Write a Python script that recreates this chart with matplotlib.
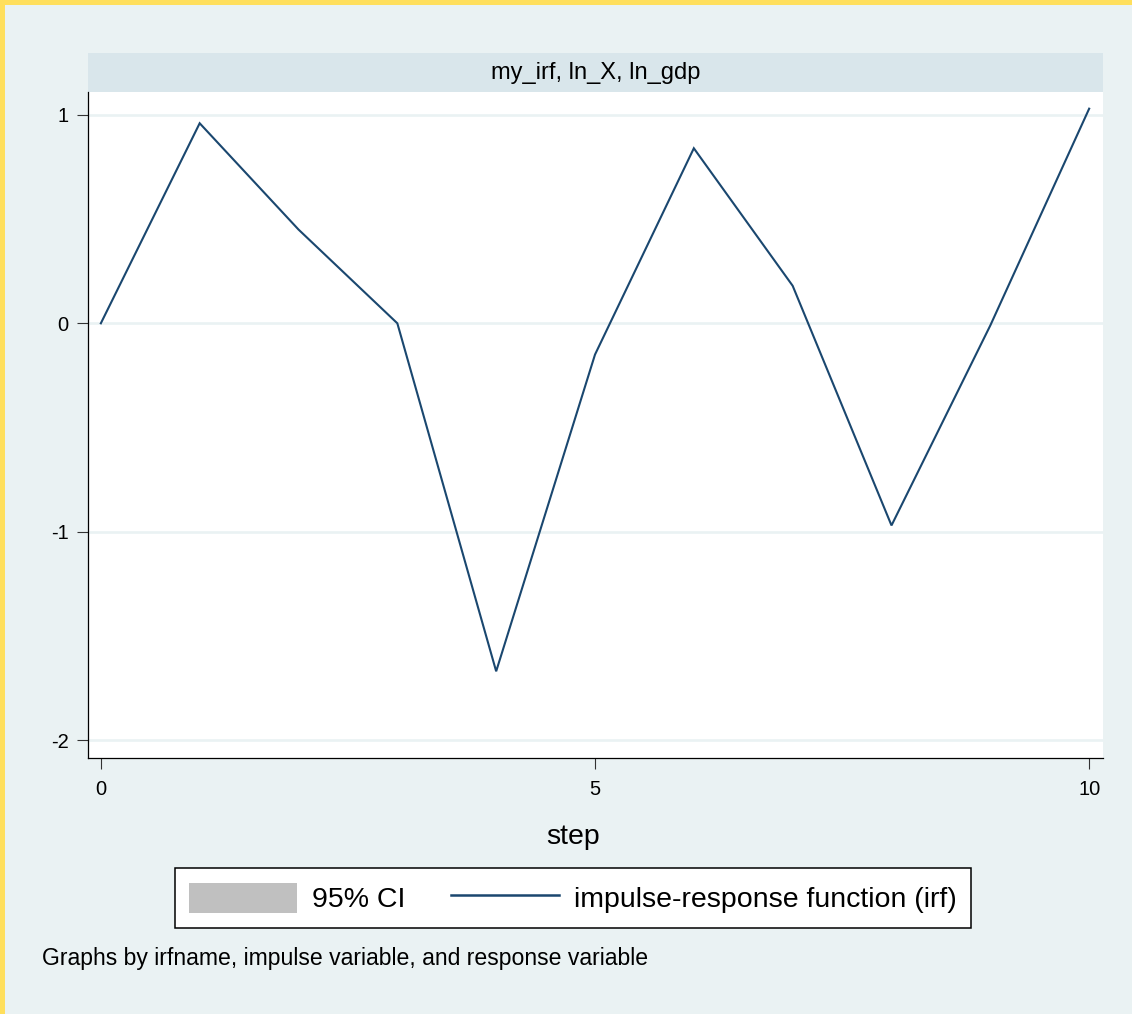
import matplotlib
matplotlib.use("Agg")
import matplotlib.pyplot as plt
from matplotlib.patches import Rectangle, Patch
from matplotlib.lines import Line2D

# impulse-response values
steps = [0, 1, 2, 3, 4, 5, 6, 7, 8, 9, 10]
irf = [0.0, 0.96, 0.45, 0.0, -1.67, -0.15, 0.84, 0.18, -0.97, -0.01, 1.03]
x_ticks = [0, 5, 10]
y_ticks = [1, 0, -1, -2]
panel_title = "my_irf, ln_X, ln_gdp"
legend_labels = ["95% CI", "impulse-response function (irf)"]
note = "Graphs by irfname, impulse variable, and response variable"

BG = "#EAF2F3"
STRIP = "#D9E6EB"
NAVY = "#1A476F"
CI_GRAY = "#C0C0C0"
YELLOW = "#FFDF5C"

plt.rcParams["font.family"] = ["Liberation Sans", "DejaVu Sans"]

W, H = 1132, 1014
fig = plt.figure(figsize=(W / 100, H / 100), dpi=100, facecolor=BG)

# yellow frame on top and left edges
fig.patches.append(Rectangle((0, 1 - 5 / H), 1, 5 / H, transform=fig.transFigure,
                             facecolor=YELLOW, edgecolor="none", zorder=0))
fig.patches.append(Rectangle((0, 0), 5 / W, 1, transform=fig.transFigure,
                             facecolor=YELLOW, edgecolor="none", zorder=0))

left, right, top, bottom = 88, 1103, 92, 758
ax = fig.add_axes([left / W, 1 - bottom / H, (right - left) / W, (bottom - top) / H])
ax.set_facecolor("white")

ax.plot(steps, irf, color=NAVY, lw=1.5, solid_joinstyle="miter")

ax.set_xlim(-0.13, 10.14)
ax.set_ylim(-2.086, 1.11)
ax.set_xticks(x_ticks)
ax.set_yticks(y_ticks)
ax.set_yticklabels([str(v) for v in y_ticks])
ax.grid(axis="y", color=BG, lw=1.9)
ax.set_axisbelow(True)

for s in ("top", "right"):
    ax.spines[s].set_visible(False)
for s in ("left", "bottom"):
    ax.spines[s].set_color("black")
    ax.spines[s].set_linewidth(0.9)

ax.tick_params(axis="both", length=8, width=0.8, color="#333333", labelsize=14.5)
ax.tick_params(axis="y", pad=6)
ax.tick_params(axis="x", pad=8)

# panel title strip
strip_h = 39 / (bottom - top)
ax.add_patch(Rectangle((0, 1), 1, strip_h, transform=ax.transAxes, facecolor=STRIP,
                       edgecolor="none", clip_on=False))
ax.text(0.5, 1 + strip_h / 2, panel_title, transform=ax.transAxes, ha="center",
        va="center", fontsize=17)

fig.text(573 / W, 1 - 844 / H, "step", ha="center", va="baseline", fontsize=20.5)

handles = [Patch(facecolor=CI_GRAY, edgecolor="none"),
           Line2D([0], [0], color=NAVY, lw=1.8)]
leg = fig.legend(handles, legend_labels, ncol=2, loc="center",
                 bbox_to_anchor=(573 / W, 1 - 898 / H), fontsize=20.5,
                 frameon=True, fancybox=False, edgecolor="black", facecolor="white",
                 framealpha=1, handlelength=3.8, handleheight=1.26,
                 handletextpad=0.53, columnspacing=1.6, borderpad=0.5,
                 borderaxespad=0)
leg.get_frame().set_linewidth(1.1)

fig.text(42 / W, 1 - 965 / H, note, ha="left", va="baseline", fontsize=16.6)

fig.savefig("out.png", dpi=100, facecolor=BG)
